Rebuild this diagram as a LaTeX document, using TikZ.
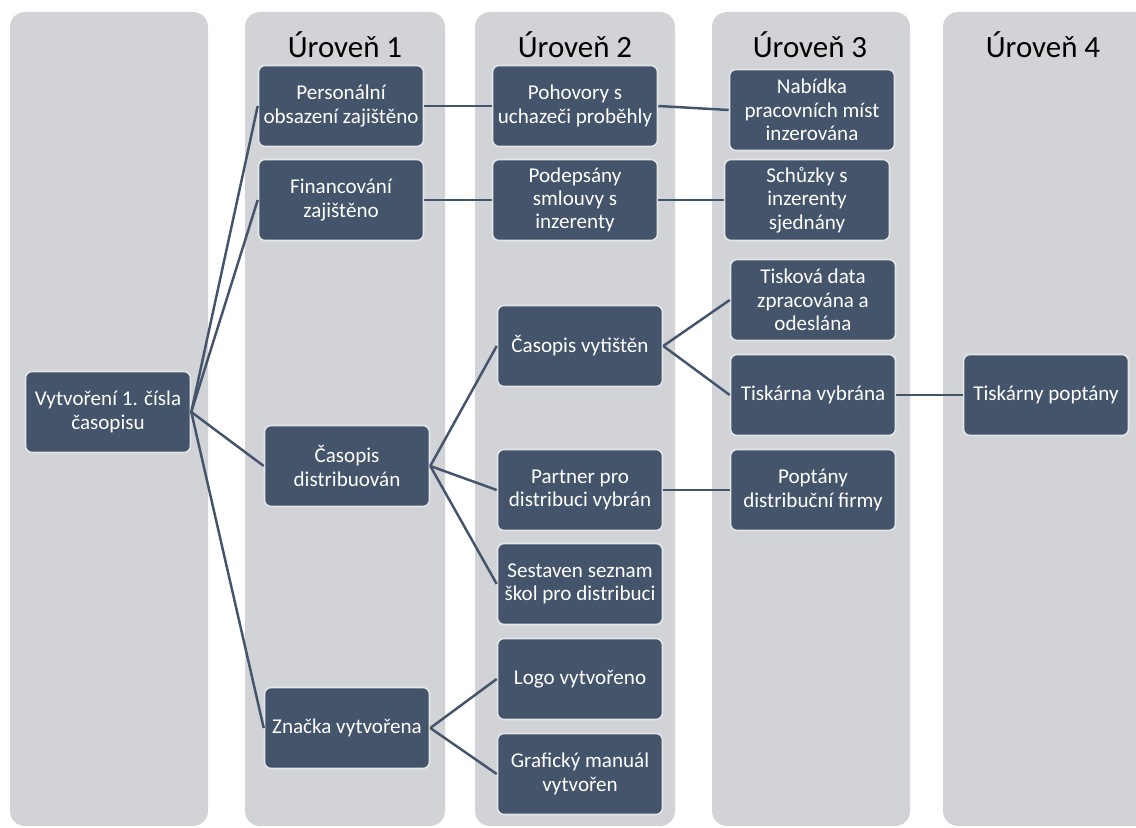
\documentclass[tikz,border=0pt]{standalone}
\usepackage{fontspec}
\setmainfont{Carlito}
\definecolor{slate}{HTML}{44546A}
\definecolor{lane}{HTML}{D1D3D7}
\definecolor{rim}{HTML}{E4E6E9}
\begin{document}
\begin{tikzpicture}[x=0.02cm, y=-0.02cm,
    lane/.style ={fill=lane, rounded corners=0.3cm},
    header/.style ={font=\fontsize{17.6}{20}\selectfont, text=black},
    task/.style ={rectangle, rounded corners=0.13cm, fill=slate, draw=rim, line width=0.9pt,
      text=white, align=center, font=\fontsize{12}{13.3}\selectfont,
      minimum width=3.3cm, minimum height=1.62cm, inner sep=1pt},
    link/.style ={draw=slate, line width=1.4pt}]
   \useasboundingbox (0,0) rectangle (1136,828);

   % columns
   \fill[lane] (10,12) rectangle (208,826);
   \fill[lane] (245,12) rectangle (445,826);
   \fill[lane] (475,12) rectangle (675,826);
   \fill[lane] (712,12) rectangle (910,826);
   \fill[lane] (943,12) rectangle (1150,826);

   \node[header] (H1) at (345,45)  {Úroveň 1};
   \node[header] (H2) at (575,45)  {Úroveň 2};
   \node[header] (H3) at (810,45)  {Úroveň 3};
   \node[header] (H4) at (1043,45) {Úroveň 4};

   % root
   \node[task] (root) at (108,412) {Vytvoření 1. čísla\\časopisu};

   % level 1
   \node[task] (staff)   at (341,106) {Personální\\obsazení zajištěno};
   \node[task] (funds)   at (341,200) {Financování\\zajištěno};
   \node[task] (distr)   at (347,466) {Časopis\\distribuován};
   \node[task] (brand)   at (347,728) {Značka vytvořena};

   % level 2
   \node[task] (interv)  at (575,106) {Pohovory s\\uchazeči proběhly};
   \node[task] (contr)   at (575,200) {Podepsány\\smlouvy s\\inzerenty};
   \node[task] (printed) at (580,346) {Časopis vytištěn};
   \node[task] (partner) at (580,490) {Partner pro\\distribuci vybrán};
   \node[task] (schools) at (580,584) {Sestaven seznam\\škol pro distribuci};
   \node[task] (logo)    at (580,679) {Logo vytvořeno};
   \node[task] (manual)  at (580,774) {Grafický manuál\\vytvořen};

   % level 3
   \node[task] (offer)   at (812,110) {Nabídka\\pracovních míst\\inzerována};
   \node[task] (meet)    at (807,200) {Schůzky s\\inzerenty\\sjednány};
   \node[task] (data)    at (813,300) {Tisková data\\zpracována a\\odeslána};
   \node[task] (press)   at (813,395) {Tiskárna vybrána};
   \node[task] (firms)   at (813,490) {Poptány\\distribuční firmy};

   % level 4
   \node[task] (ask)     at (1046,395) {Tiskárny poptány};

   \draw[link] (root.east) to (staff.west);
   \draw[link] (root.east) to (funds.west);
   \draw[link] (root.east) to (distr.west);
   \draw[link] (root.east) to (brand.west);

   \draw[link] (staff.east) to (interv.west);
   \draw[link] (funds.east) to (contr.west);
   \draw[link] (distr.east) to (printed.west);
   \draw[link] (distr.east) to (partner.west);
   \draw[link] (distr.east) to (schools.west);
   \draw[link] (brand.east) to (logo.west);
   \draw[link] (brand.east) to (manual.west);

   \draw[link] (interv.east) to (offer.west);
   \draw[link] (contr.east) to (meet.west);
   \draw[link] (printed.east) to (data.west);
   \draw[link] (printed.east) to (press.west);
   \draw[link] (partner.east) to (firms.west);

   \draw[link] (press.east) to (ask.west);

 \end{tikzpicture}
\end{document}
